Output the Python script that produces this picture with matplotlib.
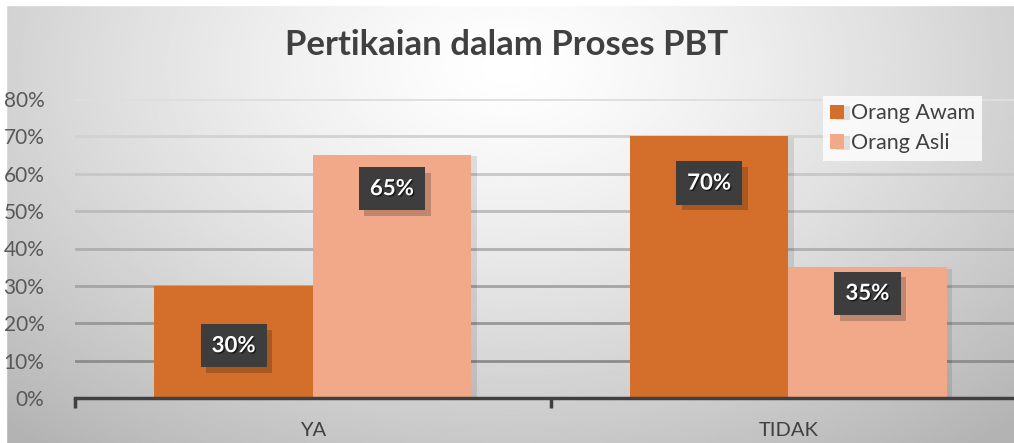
import numpy as np
import matplotlib
matplotlib.use('Agg')
import matplotlib.pyplot as plt
import matplotlib.patheffects as pe
from matplotlib.patches import Rectangle

# data
categories = ['YA', 'TIDAK']
series_names = ['Orang Awam', 'Orang Asli']
awam = [0.30, 0.70]
asli = [0.65, 0.35]
# where the data labels sit (Excel labels were moved by hand)
awam_label_y = [0.14, 0.575]
asli_label_y = [0.56, 0.28]
yticks = [0, 0.1, 0.2, 0.3, 0.4, 0.5, 0.6, 0.7, 0.8]

col_awam = '#D46E2B'
col_asli = '#F2A98A'

plt.rcParams['font.family'] = ['Lato', 'DejaVu Sans']
plt.rcParams['hatch.linewidth'] = 1.5

fig = plt.figure(figsize=(10.14, 4.43), dpi=100)

# radial gradient background
bg = fig.add_axes([0, 0, 1, 1], zorder=-10)
xx, yy = np.meshgrid(np.linspace(0, 1, 400), np.linspace(0, 1, 200))
r = np.sqrt(((xx - 0.5) / 0.75) ** 2 + ((yy - 0.15) / 1.1) ** 2)
shade = 1.0 - 0.30 * np.clip(r, 0, 1) ** 1.3
bg.imshow(shade, cmap='gray', vmin=0, vmax=1, aspect='auto',
          extent=[0, 1, 1, 0], interpolation='bilinear')
bg.set_xlim(0, 1)
bg.set_ylim(1, 0)
bg.axis('off')
# white strip on top / left like the cropped screenshot
bg.axhspan(0, 0.012, color='white')
bg.axvspan(0, 0.006, color='white')

ax = fig.add_axes([75 / 1014, 1 - 398 / 443, (1026 - 75) / 1014, (398 - 99) / 443])
ax.patch.set_alpha(0)

x = np.arange(len(categories))
w = 0.333
shadow = [pe.SimplePatchShadow(offset=(4, -1), shadow_rgbFace='black', alpha=0.1), pe.Normal()]
b1 = ax.bar(x - w / 2, awam, w, color=col_awam, label=series_names[0], zorder=3)
b2 = ax.bar(x + w / 2, asli, w, color=col_asli, label=series_names[1], zorder=3)
for b in list(b1) + list(b2):
    b.set_path_effects(shadow)

# gridlines, darker toward the bottom
for i, t in enumerate(yticks[1:]):
    g = 0.55 + 0.32 * (i / (len(yticks) - 2))
    ax.axhline(t, color=(g, g, g), lw=2, zorder=1)

ax.set_ylim(0, 0.8)
ax.set_xlim(-0.5, 1.5)
ax.set_yticks(yticks)
ax.set_yticklabels([f'{int(round(t * 100))}%' for t in yticks], fontsize=15, color='#595959')
ax.tick_params(axis='y', length=0, pad=22)
ax.set_xticks(x)
ax.set_xticklabels(categories, fontsize=14.5, color='#404040')
ax.set_xticks([-0.5, 0.5, 1.5], minor=True)
ax.tick_params(axis='x', which='major', length=0, pad=17)
ax.tick_params(axis='x', which='minor', length=7, width=2.5, color='#404040')

for s in ['top', 'right', 'left']:
    ax.spines[s].set_visible(False)
ax.spines['bottom'].set_color('#404040')
ax.spines['bottom'].set_linewidth(2.5)
ax.spines['bottom'].set_zorder(5)

labels = []


def put_label(xp, yp, v):
    txt = f'{int(round(v * 100))}%'
    t = ax.text(xp, yp, txt, ha='center', va='center', fontsize=16, fontweight='bold',
                color='white', zorder=8,
                bbox=dict(boxstyle='square,pad=0.5', fc='#3d3d3d', ec='none'))
    t.set_path_effects([pe.withSimplePatchShadow(offset=(1, -1), shadow_rgbFace='black', alpha=0.6)])
    t.get_bbox_patch().set_path_effects(
        [pe.SimplePatchShadow(offset=(4, -4), shadow_rgbFace='black', alpha=0.2), pe.Normal()])
    labels.append(t)


for i in range(len(categories)):
    put_label(x[i] - w / 2, awam_label_y[i], awam[i])
    put_label(x[i] + w / 2, asli_label_y[i], asli[i])

fig.text(0.5, 1 - 45 / 443, 'Pertikaian dalam Proses PBT', ha='center', va='center',
         fontsize=25, fontweight='bold', color='#404040')

leg = fig.legend(handles=[b1, b2], labels=series_names, loc='upper left',
                 bbox_to_anchor=(812 / 1014, 1 - 85 / 443), fontsize=15.5,
                 frameon=True, fancybox=False, handlelength=0.65, handleheight=0.65,
                 handletextpad=0.3, labelspacing=0.45, borderpad=0.35)
leg.get_frame().set_facecolor((1, 1, 1, 0.2))
leg.get_frame().set_edgecolor('none')
for t in leg.get_texts():
    t.set_color('#404040')

# dotted texture over the label boxes (hatch only, no shadow)
fig.canvas.draw()
inv = ax.transData.inverted()
for t in labels:
    ext = t.get_bbox_patch().get_window_extent()
    (x0, y0), (x1, y1) = inv.transform([[ext.x0, ext.y0], [ext.x1, ext.y1]])
    ax.add_patch(Rectangle((x0, y0), x1 - x0, y1 - y0, fc='none', ec='#5a5a5a',
                           lw=0.01, hatch='.', zorder=7.5))

fig.savefig('out.png', dpi=100)
